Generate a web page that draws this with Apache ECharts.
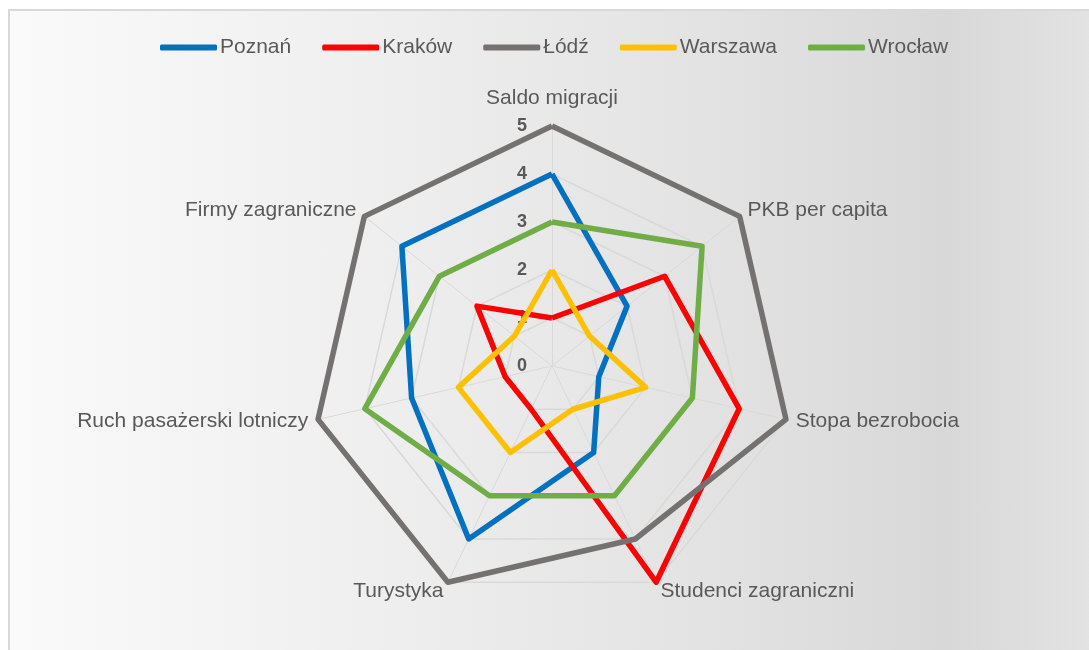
<!DOCTYPE html>
<html>
<head>
<meta charset="utf-8">
<script src="https://cdn.jsdelivr.net/npm/echarts@6/dist/echarts.min.js"></script>
<style>
  html, body { margin: 0; padding: 0; width: 1089px; height: 650px; overflow: hidden; background: #fff; }
  .frame {
    position: absolute; left: 8px; top: 9px; width: 1100px; height: 660px;
    border: 2px solid #d9d9d9;
    background: linear-gradient(to right, #fafafa 0%, #eeeeee 35%, #e2e2e2 65%, #d8d8d8 85%, #e4e4e4 100%);
  }
  .chart { position: absolute; left: 0; top: 0; width: 1100px; height: 660px; }
</style>
</head>
<body>
<div class="frame"><div class="chart"></div></div>
<script>
// indicators, clockwise from the top (as in the picture)
var indicators = ["Saldo migracji", "PKB per capita", "Stopa bezrobocia", "Studenci zagraniczni",
    "Turystyka", "Ruch pasażerski lotniczy", "Firmy zagraniczne"];
var cities = ["Poznań", "Kraków", "Łódź", "Warszawa", "Wrocław"];
var colors = ["#0070C0", "#FF0000", "#767171", "#FFC000", "#70AD47"];
var poznan   = [4, 2, 1, 2, 4, 3, 4];
var krakow   = [1, 3, 4, 5, 1, 1, 2];
var lodz     = [5, 5, 5, 4, 5, 5, 5];
var warszawa = [2, 1, 2, 1, 2, 2, 1];
var wroclaw  = [3, 4, 3, 3, 3, 4, 3];
var values = [poznan, krakow, lodz, warszawa, wroclaw];
var maxVal = 5;

// echarts draws radar axes counter-clockwise, so walk the list backwards after the first one
var order = [0, 6, 5, 4, 3, 2, 1];

var myChart = echarts.init(document.querySelector(".chart"));

var font = "'Liberation Sans', Arial, sans-serif";
var ind = order.map(function (k, i) {
    var o = { name: indicators[k], min: 0, max: maxVal, nameGap: 10 };
    if (i === 0) {
        o.nameGap = 17;
        // tick labels only on the top axis
        o.axisLabel = { show: true, color: "#595959", fontWeight: "bold", fontSize: 18,
            fontFamily: font, margin: 25 };
    }
    return o;
});

var option = {
    color: colors,
    animation: false,
    legend: {
        top: 21,
        left: 145,
        itemWidth: 57,
        itemHeight: 6,
        itemGap: 31,
        icon: "roundRect",
        textStyle: { color: "#595959", fontSize: 21, fontFamily: font, padding: [0, 0, 0, -2] },
        data: cities
    },
    radar: {
        center: [542, 355],
        radius: 240,
        splitNumber: 5,
        shape: "polygon",
        axisName: { color: "#595959", fontSize: 21, fontFamily: font },
        axisLabel: { show: false },
        axisTick: { show: false },
        axisLine: { lineStyle: { color: "#d9d9d9", width: 1 } },
        splitLine: { lineStyle: { color: "#d9d9d9", width: 1.5 } },
        splitArea: { show: false },
        indicator: ind
    },
    series: [{
        type: "radar",
        symbol: "none",
        data: cities.map(function (c, i) {
            return {
                name: c,
                value: order.map(function (k) { return values[i][k]; }),
                lineStyle: { color: colors[i], width: 5.5 }
            };
        })
    }]
};
myChart.setOption(option);
</script>
</body>
</html>
